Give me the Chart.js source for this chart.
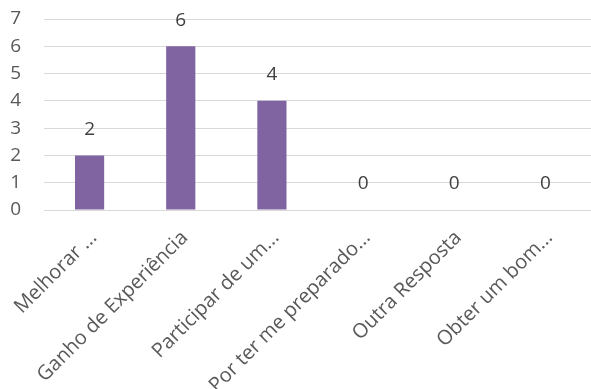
<!DOCTYPE html>
<html>
<head>
<meta charset="utf-8">
<script src="https://cdn.jsdelivr.net/npm/chart.js@4"></script>
<style>
  html, body { margin: 0; padding: 0; background: #fff; }
  #wrap { width: 591px; height: 389px; }
</style>
</head>
<body>
<div id="wrap"><canvas id="motivosChart" width="591" height="389"></canvas></div>
<script>
"use strict";

// Categories and answer counts
const categories = [
  "Melhorar ...",
  "Ganho de Experiência",
  "Participar de um...",
  "Por ter me preparado...",
  "Outra Resposta",
  "Obter um bom..."
];
const respostas = [2, 6, 4, 0, 0, 0];
const yTicks = [0, 1, 2, 3, 4, 5, 6, 7];

const textColor = "#595959";
const fontFamily = "'Open Sans', 'Liberation Sans', sans-serif";

// Draws the value above each bar
const valueLabels = {
  id: "valueLabels",
  afterDatasetsDraw(chart) {
    const ctx = chart.ctx;
    const meta = chart.getDatasetMeta(0);
    ctx.save();
    ctx.font = "19px " + fontFamily;
    ctx.fillStyle = "#404040";
    ctx.textAlign = "center";
    ctx.textBaseline = "middle";
    meta.data.forEach((bar, i) => {
      ctx.fillText(String(respostas[i]), bar.x, bar.y - 26);
    });
    ctx.restore();
  }
};

new Chart(document.getElementById("motivosChart"), {
  type: "bar",
  data: {
    labels: categories,
    datasets: [{
      data: respostas,
      backgroundColor: "#8064a2",
      categoryPercentage: 1,
      barPercentage: 0.32
    }]
  },
  options: {
    responsive: false,
    animation: false,
    layout: { padding: { top: 19, right: 0, left: 0, bottom: 0 } },
    plugins: {
      legend: { display: false },
      tooltip: { enabled: false }
    },
    scales: {
      x: {
        grid: { display: false, drawTicks: false },
        border: { color: "#d9d9d9", width: 1 },
        afterFit(scale) {
          scale.height = 179;
          scale.paddingLeft = 0;
          scale.paddingRight = -5;
        },
        ticks: {
          color: textColor,
          font: { family: fontFamily, size: 20 },
          minRotation: 45,
          maxRotation: 45,
          padding: 16,
          labelOffset: 4,
          autoSkip: false
        }
      },
      y: {
        min: 0,
        max: 7,
        afterBuildTicks(scale) {
          scale.ticks = yTicks.map(v => ({ value: v }));
        },
        afterFit(scale) {
          scale.width = 44;
          scale.paddingTop = 0;
          scale.paddingBottom = 0;
        },
        grid: { color: "#d9d9d9", drawTicks: false },
        border: { display: false },
        ticks: {
          color: textColor,
          font: { family: fontFamily, size: 19 },
          padding: 23,
          autoSkip: false
        }
      }
    }
  },
  plugins: [valueLabels]
});
</script>
</body>
</html>
